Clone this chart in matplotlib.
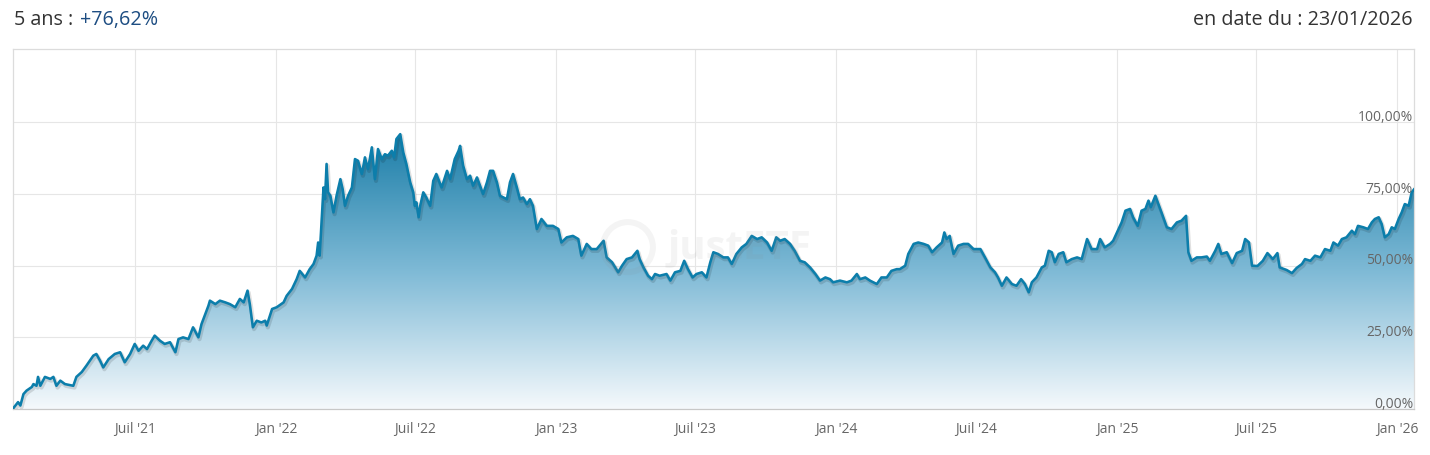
import matplotlib
matplotlib.use("Agg")
import matplotlib.pyplot as plt
import matplotlib.patheffects as pe
from matplotlib.colors import LinearSegmentedColormap
from matplotlib.transforms import blended_transform_factory
import numpy as np
import pandas as pd

start_date = "2021-01-23"
end_date = "2026-01-23"

# days after start_date, cumulative performance in %
days = [0, 7, 10, 14, 18, 25, 27, 31, 33, 36,
        42, 49, 53, 57, 62, 68, 79, 83, 90, 96,
        105, 109, 114, 118, 125, 133, 140, 146, 153, 159,
        164, 170, 175, 181, 185, 192, 198, 205, 212, 216,
        222, 229, 235, 242, 246, 251, 255, 257, 264, 270,
        277, 283, 290, 296, 301, 306, 309, 313, 318, 324,
        329, 331, 338, 344, 353, 357, 364, 370, 374, 381,
        387, 392, 396, 398, 400, 403, 405, 407, 409, 411,
        414, 418, 422, 427, 430, 433, 437, 442, 446, 450,
        455, 459, 463, 468, 472, 476, 481, 485, 489, 494,
        497, 500, 505, 509, 513, 518, 522, 524, 526, 529,
        531, 535, 539, 544, 548, 552, 559, 566, 570, 576,
        581, 583, 587, 592, 596, 600, 605, 609, 613, 618,
        622, 626, 631, 635, 644, 648, 652, 657, 661, 665,
        670, 674, 678, 683, 689, 696, 704, 711, 715, 722,
        730, 737, 741, 748, 754, 761, 770, 774, 781, 789,
        794, 800, 807, 814, 817, 822, 828, 833, 837, 843,
        852, 857, 863, 870, 875, 880, 886, 891, 898, 904,
        909, 913, 919, 926, 932, 937, 943, 950, 956, 963,
        970, 976, 983, 989, 995, 1000, 1006, 1013, 1019, 1026,
        1032, 1039, 1046, 1052, 1059, 1065, 1069, 1078, 1087, 1093,
        1100, 1104, 1111, 1117, 1126, 1132, 1139, 1145, 1152, 1156,
        1163, 1167, 1174, 1180, 1187, 1193, 1198, 1204, 1211, 1214,
        1217, 1221, 1226, 1232, 1239, 1245, 1252, 1261, 1267, 1274,
        1280, 1284, 1289, 1295, 1302, 1308, 1314, 1319, 1324, 1328,
        1334, 1341, 1345, 1350, 1354, 1358, 1363, 1369, 1373, 1380,
        1387, 1393, 1400, 1406, 1413, 1417, 1423, 1430, 1434, 1441,
        1445, 1450, 1456, 1460, 1466, 1471, 1476, 1480, 1483, 1489,
        1493, 1497, 1504, 1510, 1517, 1523, 1529, 1532, 1536, 1543,
        1549, 1556, 1560, 1567, 1571, 1575, 1582, 1589, 1595, 1602,
        1606, 1611, 1615, 1622, 1629, 1635, 1642, 1648, 1651, 1660,
        1667, 1673, 1680, 1684, 1691, 1697, 1704, 1710, 1717, 1721,
        1727, 1732, 1738, 1745, 1749, 1753, 1760, 1766, 1771, 1775,
        1780, 1784, 1788, 1793, 1797, 1801, 1806, 1810, 1814, 1819,
        1823, 1826]

perf = [0.0, 2.4, 1.2, 5.2, 6.4, 7.7, 8.7, 8.1, 11.2, 8.1,
        11.2, 10.5, 11.2, 8.1, 9.9, 8.7, 8.1, 11.2, 12.9, 15.1,
        18.6, 19.2, 16.8, 14.5, 17.4, 19.2, 19.8, 16.3, 19.2, 22.7,
        20.3, 22.1, 20.9, 23.8, 25.6, 23.8, 22.7, 23.3, 19.8, 24.4,
        25.0, 24.4, 28.5, 25.0, 29.6, 33.1, 36.0, 37.8, 36.6, 37.8,
        37.2, 36.6, 35.5, 38.4, 37.2, 41.3, 36.6, 28.5, 30.8, 30.2,
        30.8, 29.1, 34.9, 35.5, 37.2, 39.5, 41.9, 45.3, 48.2, 45.9,
        48.8, 50.6, 53.5, 58.1, 53.5, 67.4, 77.3, 73.2, 85.5, 75.6,
        74.4, 68.6, 74.4, 80.2, 76.7, 70.9, 74.4, 77.3, 87.2, 86.6,
        82.0, 87.8, 83.7, 91.3, 80.2, 90.7, 87.2, 88.9, 88.4, 90.1,
        87.8, 94.2, 95.9, 89.5, 85.5, 79.1, 75.6, 70.9, 72.1, 66.9,
        70.9, 75.6, 73.8, 70.9, 79.6, 82.0, 77.3, 83.1, 80.2, 87.2,
        90.1, 91.8, 84.9, 80.2, 81.4, 77.9, 80.8, 77.9, 75.0, 79.1,
        83.1, 83.1, 79.1, 74.4, 73.2, 79.1, 82.0, 77.3, 73.2, 73.8,
        71.5, 73.2, 70.9, 62.8, 66.3, 63.9, 63.9, 62.8, 58.1, 59.9,
        60.4, 59.3, 53.5, 57.6, 55.8, 55.8, 58.7, 52.9, 51.2, 47.7,
        50.0, 52.3, 52.9, 55.2, 52.3, 49.4, 46.5, 45.3, 47.1, 46.5,
        47.1, 44.8, 47.7, 48.2, 51.7, 48.8, 45.9, 47.1, 47.7, 45.9,
        51.2, 54.7, 54.1, 52.9, 52.9, 50.6, 54.1, 56.4, 57.6, 60.4,
        59.3, 59.9, 58.1, 55.2, 59.9, 58.7, 59.3, 57.6, 55.2, 51.7,
        51.2, 49.4, 47.1, 44.8, 45.9, 45.3, 44.2, 44.8, 44.2, 44.8,
        47.1, 45.3, 45.9, 44.8, 43.6, 45.9, 45.9, 48.2, 48.8, 48.8,
        50.0, 54.1, 57.6, 58.1, 57.6, 57.0, 54.7, 56.4, 58.1, 61.6,
        59.3, 60.4, 54.1, 57.0, 57.6, 57.6, 55.8, 55.8, 52.9, 49.4,
        47.7, 45.9, 43.0, 45.9, 43.6, 43.0, 45.3, 43.6, 40.7, 44.2,
        45.9, 49.4, 50.0, 55.2, 54.7, 51.2, 54.1, 54.7, 51.2, 52.3,
        52.9, 52.3, 59.3, 55.8, 55.8, 59.3, 56.4, 57.6, 58.7, 62.8,
        65.1, 69.2, 69.8, 66.9, 63.9, 69.2, 69.8, 72.7, 70.4, 74.4,
        71.5, 68.6, 63.4, 62.8, 65.1, 65.7, 67.4, 54.7, 51.7, 52.9,
        52.9, 53.2, 51.7, 55.2, 57.6, 54.1, 54.7, 50.9, 54.4, 55.2,
        59.3, 58.1, 50.0, 49.9, 51.7, 54.4, 52.3, 54.4, 49.4, 48.5,
        47.4, 49.2, 50.6, 52.3, 51.7, 53.5, 52.9, 55.8, 55.2, 58.1,
        57.0, 59.3, 59.9, 62.2, 61.0, 63.9, 63.4, 62.8, 65.1, 66.3,
        66.9, 64.5, 59.9, 61.0, 63.4, 62.8, 66.3, 68.6, 71.5, 70.9,
        75.6, 76.62]

y_ticks = [0, 25, 50, 75, 100]
y_tick_labels = ["0,00%", "25,00%", "50,00%", "75,00%", "100,00%"]
x_ticks = ["2021-07-01", "2022-01-01", "2022-07-01", "2023-01-01", "2023-07-01",
           "2024-01-01", "2024-07-01", "2025-01-01", "2025-07-01", "2026-01-01"]
x_tick_labels = ["Juil '21", "Jan '22", "Juil '22", "Jan '23", "Juil '23",
                 "Jan '24", "Juil '24", "Jan '25", "Juil '25", "Jan '26"]

period_label = "5 ans :"
total_perf = "+76,62%"
date_label = "en date du : 23/01/2026"

plt.rcParams['font.family'] = ['Open Sans', 'DejaVu Sans']

dates = pd.Timestamp(start_date) + pd.to_timedelta(days, unit="D")
xnum = matplotlib.dates.date2num(dates)

W, H = 1430, 456
fig = plt.figure(figsize=(W / 100, H / 100), dpi=100)
ax = fig.add_axes([12.7 / W, 1 - 410 / H, (1414 - 12.7) / W, (410 - 50.3) / H])

# gradient area under the line
poly = ax.fill_between(dates, perf, 0, color='none', lw=0)
cmap = LinearSegmentedColormap.from_list('area', ['#f5f9fc', '#7fbad6', '#1c7ea8'])
grad = np.linspace(0, 1, 256).reshape(-1, 1)
img = ax.imshow(grad, cmap=cmap, origin='lower', aspect='auto',
                extent=[xnum[0], xnum[-1], 0, max(perf)], zorder=2,
                interpolation='bicubic')
img.set_clip_path(poly.get_paths()[0], ax.transData)

ax.plot(dates, perf, color='#0c7eab', lw=1.85, solid_joinstyle='round', zorder=4,
        path_effects=[pe.SimpleLineShadow(offset=(0.8, -1.3), shadow_color='black',
                                          alpha=0.12, linewidth=3.0),
                      pe.Normal()])

ax.set_xlim(pd.Timestamp(start_date), pd.Timestamp(end_date))
ax.set_ylim(0, 125.5)

ax.set_xticks(pd.to_datetime(x_ticks))
ax.set_xticklabels(x_tick_labels)
ax.set_yticks(y_ticks)
ax.set_yticklabels([])
ax.tick_params(axis='both', length=0)
ax.tick_params(axis='x', pad=9, labelsize=10, labelcolor='#666666')
ax.grid(True, color='#e6e6e6', lw=0.8)
ax.set_axisbelow(True)
for s in ax.spines.values():
    s.set_color('#dcdcdc')
    s.set_linewidth(0.9)
ax.spines['bottom'].set_color('#c8c8c8')

trans = blended_transform_factory(ax.transAxes, ax.transData)
for v, lab in zip(y_ticks, y_tick_labels):
    ax.text(0.9993, v - 0.6, lab, transform=trans, ha='right', va='bottom',
            fontsize=10, color='#666666', zorder=5)

# faint watermark
ax.scatter([0.439], [0.45], s=1300, marker='o', facecolors='none',
           edgecolors='#8a8a8a', linewidths=4.3, alpha=0.09,
           transform=ax.transAxes, zorder=5)
ax.text(0.4676, 0.45, "justETF", transform=ax.transAxes, ha='left', va='center',
        fontsize=29, fontweight='bold', color='#8a8a8a', alpha=0.09, zorder=5)

t1 = fig.text(14 / W, 1 - 20 / H, period_label, ha='left', va='center',
              fontsize=14.2, color='#333333')
ax.annotate(total_perf, xy=(1, 0), xycoords=t1, xytext=(4.6, 0),
            textcoords='offset points', ha='left', va='bottom',
            fontsize=14.2, color='#1d4d82', annotation_clip=False)
fig.text(1413 / W, 1 - 20 / H, date_label, ha='right', va='center',
         fontsize=14.2, color='#333333')

fig.savefig("out.png", dpi=100, facecolor='white')
